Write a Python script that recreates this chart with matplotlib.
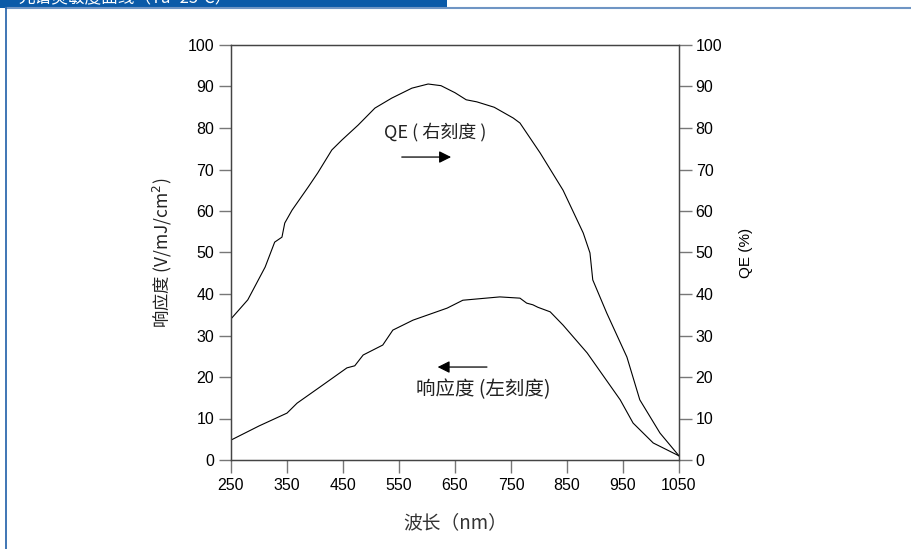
import matplotlib.pyplot as plt
from matplotlib.patches import Rectangle
from matplotlib.lines import Line2D

plt.rcParams['font.family'] = ['Liberation Sans', 'Noto Sans CJK SC', 'DejaVu Sans']

# 量子效率 QE (%) - 右刻度
qe_nm = [250, 280, 311, 328, 341, 346, 359, 388, 405, 430, 448, 477, 507, 537, 573,
         602, 625, 650, 670, 689, 720, 754, 766, 802, 843, 879, 891, 896, 921, 957,
         980, 1016, 1050]
qe_val = [34.0, 38.6, 46.5, 52.5, 53.7, 57.1, 60.2, 65.8, 69.2, 74.7, 77.1, 80.7, 84.8,
          87.2, 89.6, 90.6, 90.2, 88.5, 86.8, 86.3, 85, 82.4, 81.2, 74, 65, 54.7, 49.9,
          43.4, 35.4, 24.8, 14.5, 6.5, 1.0]

# 响应度 (V/mJ/cm2) - 左刻度
resp_nm = [250, 300, 350, 368, 409, 457, 471, 486, 521, 539, 575, 636, 664, 730, 766,
           778, 789, 798, 820, 843, 886, 945, 968, 1004, 1050]
resp_val = [4.8, 8.2, 11.3, 13.7, 17.6, 22.2, 22.7, 25.3, 27.7, 31.3, 33.7, 36.6, 38.5,
            39.3, 39.0, 37.8, 37.4, 36.8, 35.7, 32.5, 25.8, 14.5, 8.9, 4.1, 1.0]

x_ticks = [250, 350, 450, 550, 650, 750, 850, 950, 1050]
y_ticks = [0, 10, 20, 30, 40, 50, 60, 70, 80, 90, 100]

fig = plt.figure(figsize=(9.12, 5.49), dpi=100)

# 外框与标题栏
blue = '#1f5fa8'
fig.add_artist(Rectangle((0, 0.985), 447 / 912, 0.02, transform=fig.transFigure,
                         facecolor='#0a5aa8', edgecolor='none'))
fig.add_artist(Line2D([6 / 912, 1], [541 / 549, 541 / 549], transform=fig.transFigure,
                      color='#6f95c4', lw=1.5))
fig.add_artist(Line2D([6 / 912, 6 / 912], [0, 541 / 549], transform=fig.transFigure,
                      color=blue, lw=1.2))
fig.text(18 / 912, 1.004, '光谱灵敏度曲线（Ta=25℃）', color='white', fontsize=12,
         va='center', ha='left', family=['Noto Sans CJK SC', 'DejaVu Sans'])

ax = fig.add_axes([231 / 912, 89 / 549, 448 / 912, 415 / 549])
ax2 = ax.twinx()

ax.plot(resp_nm, resp_val, color='black', lw=0.8)
ax2.plot(qe_nm, qe_val, color='black', lw=0.8)

for a in (ax, ax2):
    a.set_xlim(250, 1050)
    a.set_ylim(0, 100)
    a.set_yticks(y_ticks)
    a.tick_params(direction='out', length=9, width=1, color='#777777', labelsize=11.5,
                  pad=3)
    for s in a.spines.values():
        s.set_color('#444444')
        s.set_linewidth(0.9)
ax.set_xticks(x_ticks)
ax.tick_params(axis='x', pad=4)

cjk = ['Noto Sans CJK SC', 'DejaVu Sans']
ax.set_xlabel('波长（nm）', fontsize=13.5, labelpad=14, family=cjk, color='#333333')
ax.set_ylabel('响应度 (V/mJ/cm$^2$)', fontsize=12.5, labelpad=10, family=cjk,
              color='#222222')
ax2.set_ylabel('QE (%)', fontsize=11, labelpad=12)

# 注释文字和箭头
ax.text(614, 79, 'QE ( 右刻度 )', fontsize=13, ha='center', va='center', family=cjk,
        color='#222222')
ax.annotate('', xy=(648, 73), xytext=(550, 73),
            arrowprops=dict(arrowstyle='-|>', color='black', lw=0.9,
                            mutation_scale=18))
ax.annotate('', xy=(614, 22.4), xytext=(712, 22.4),
            arrowprops=dict(arrowstyle='-|>', color='black', lw=0.9,
                            mutation_scale=18))
ax.text(700, 16.9, '响应度 (左刻度)', fontsize=14, ha='center', va='center', family=cjk,
        color='#222222')

plt.savefig('out.png', dpi=100)
